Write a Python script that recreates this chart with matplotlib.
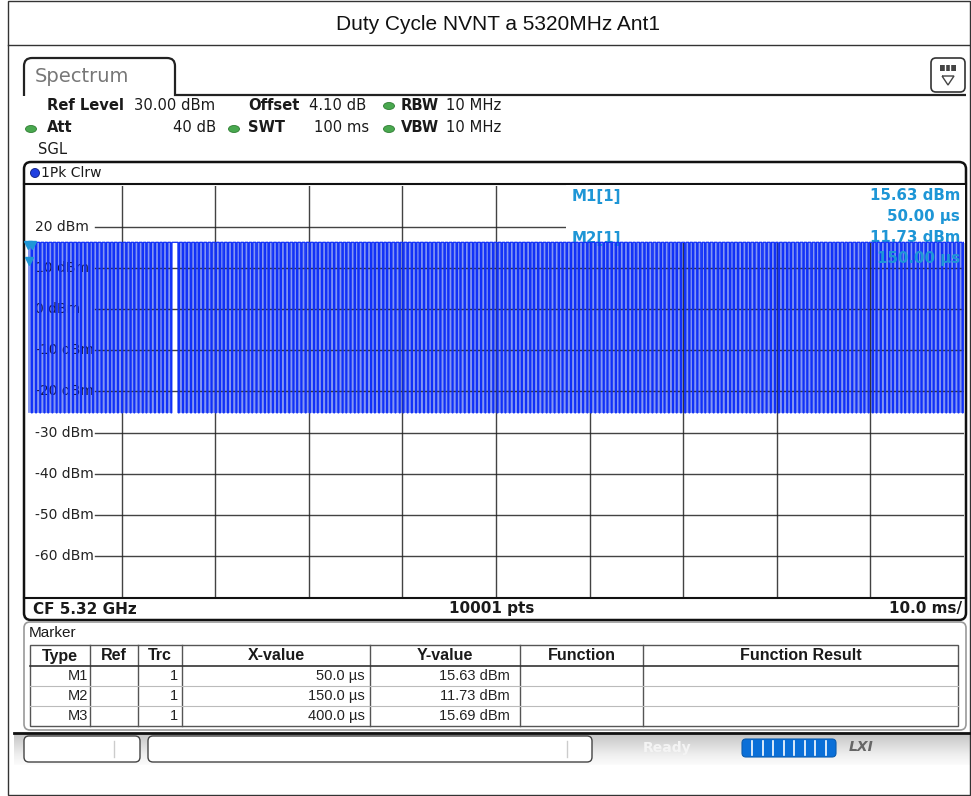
import numpy as np
import matplotlib
matplotlib.use("Agg")
import matplotlib.pyplot as plt
from matplotlib.patches import FancyBboxPatch, Rectangle, Ellipse, PathPatch
from matplotlib.path import Path

# ---------------- data ----------------
title = "Duty Cycle NVNT a 5320MHz Ant1"
sweep_ms = 100.0
n_points = 10001
ref_level_dbm = 30.0
y_bottom_dbm = -70.0
ytick_dbm = [20, 10, 0, -10, -20, -30, -40, -50, -60]
ytick_labels = ["20 dBm", "10 dBm", "0 dBm", "-10 dBm", "-20 dBm",
                "-30 dBm", "-40 dBm", "-50 dBm", "-60 dBm"]
xgrid_ms = [10, 20, 30, 40, 50, 60, 70, 80, 90]

burst_level_dbm = 16.3      # trace level while the transmitter is on
off_level_dbm = -25.2       # trace level in the off gaps
dip_width_ms = 0.12
# start of each off gap (ms)
dips_ms = [
    0.35, 0.8, 1.25, 1.7, 2.1, 2.55, 3.0, 3.4, 3.85, 4.3, 4.75, 5.2, 5.6, 6.05, 6.5, 6.9, 7.35, 7.8, 8.25, 8.7, 9.1, 9.55,
    10.0, 10.45, 10.9, 11.3, 11.75, 12.2, 12.6, 13.05, 13.5, 13.95, 14.35, 14.8, 15.25, 16.05, 16.5, 16.9, 17.35, 17.8, 18.2, 18.65, 19.1, 19.55,
    20.0, 20.45, 20.85, 21.3, 21.75, 22.2, 22.6, 23.05, 23.5, 23.9, 24.35, 24.8, 25.25, 25.65, 26.1, 26.55, 26.95, 27.4, 27.85, 28.3, 28.7, 29.15, 29.6,
    30.05, 30.5, 30.9, 31.35, 31.8, 32.2, 32.65, 33.1, 33.55, 33.95, 34.4, 34.85, 35.25, 35.7, 36.15, 36.6, 37.0, 37.45, 37.9, 38.3, 38.75, 39.2, 39.65,
    40.05, 40.5, 40.95, 41.4, 41.8, 42.25, 42.7, 43.1, 43.55, 44.0, 44.45, 44.85, 45.3, 45.75, 46.15, 46.6, 47.05, 47.5, 47.9, 48.35, 48.8, 49.2, 49.65,
    50.1, 50.55, 50.95, 51.4, 51.85, 52.3, 52.7, 53.15, 53.6, 54.0, 54.45, 54.9, 55.35, 55.75, 56.2, 56.65, 57.05, 57.5, 57.95, 58.4, 58.8, 59.25, 59.7,
    60.1, 60.55, 61.0, 61.45, 61.85, 62.3, 62.75, 63.15, 63.6, 64.05, 64.5, 64.9, 65.35, 65.8, 66.2, 66.65, 67.1, 67.55, 67.95, 68.4, 68.85, 69.25, 69.7,
    70.15, 70.6, 71.0, 71.45, 71.9, 72.3, 72.75, 73.2, 73.65, 74.05, 74.5, 74.95, 75.35, 75.8, 76.25, 76.7, 77.1, 77.55, 78.0, 78.4, 78.85, 79.3, 79.75,
    80.15, 80.6, 81.05, 81.45, 81.9, 82.35, 82.8, 83.2, 83.65, 84.1, 84.5, 84.95, 85.4, 85.85, 86.25, 86.7, 87.15, 87.55, 88.0, 88.45, 88.9, 89.3, 89.75,
    90.2, 90.6, 91.05, 91.5, 91.95, 92.35, 92.8, 93.25, 93.65, 94.1, 94.55, 95.0, 95.4, 95.85, 96.3, 96.7, 97.15, 97.6, 98.05, 98.45, 98.9, 99.35, 99.8,
]
quiet_gaps_ms = [(15.4, 15.95)]

marker_names = ["M1", "M2", "M3"]
marker_x_us = [50.0, 150.0, 400.0]
marker_y_dbm = [15.63, 11.73, 15.69]

table_header = ["Type", "Ref", "Trc", "X-value", "Y-value", "Function", "Function Result"]
table_rows = [
    ["M1", "", "1", "50.0 µs", "15.63 dBm", "", ""],
    ["M2", "", "1", "150.0 µs", "11.73 dBm", "", ""],
    ["M3", "", "1", "400.0 µs", "15.69 dBm", "", ""],
]

# ---------------- figure ----------------
W, H = 971, 796
fig = plt.figure(figsize=(W / 100, H / 100), dpi=100)
deco = fig.add_axes([0, 0, 1, 1])
deco.set_xlim(0, W)
deco.set_ylim(H, 0)
deco.axis("off")

FONT = ["DejaVu Sans"]
NARROW = ["Liberation Sans Narrow", "Liberation Sans"]
DARK = "#1a1a1a"
CYAN = "#1e96d6"
TRACE = "#1030f8"
LIGHT = "#8396f2"

# outer frame + title
deco.add_patch(Rectangle((8, 0.5), W - 9, H - 2, fill=False, lw=1.0, ec="#333333"))
deco.plot([8, W], [45, 45], color="#333333", lw=1.0)
deco.text(498, 24, title, ha="center", va="center", fontsize=15,
          family=["Liberation Sans", "DejaVu Sans"], color="#111111")

# Spectrum tab
verts = [(24, 96), (24, 66), (24, 58), (32, 58), (167, 58), (175, 58), (175, 66), (175, 95), (966, 95)]
codes = [Path.MOVETO, Path.LINETO, Path.CURVE3, Path.CURVE3, Path.LINETO, Path.CURVE3, Path.CURVE3,
         Path.LINETO, Path.LINETO]
deco.add_patch(PathPatch(Path(verts, codes), fill=False, lw=1.6, ec="#222222"))
deco.text(35, 76, "Spectrum", fontsize=14, family=FONT, color="#777777", va="center")
# icon top right
deco.add_patch(FancyBboxPatch((931, 58), 34, 34, boxstyle="round,pad=0,rounding_size=5",
                              fc="white", ec="#333333", lw=1.2))
deco.add_patch(Rectangle((940, 65), 16, 6, fc="#444444", ec="none"))
deco.plot([944.5, 944.5], [65, 71], color="white", lw=1)
deco.plot([949.5, 949.5], [65, 71], color="white", lw=1)
deco.add_patch(PathPatch(Path([(942, 76), (954, 76), (948, 85), (942, 76)]), fill=False, ec="#444444", lw=1))

# header parameters
def green(x, y):
    deco.add_patch(Ellipse((x, y), 11, 7, fc="#49a84f", ec="#2e7d32", lw=0.6))

hs = 10.6
deco.text(47, 105, "Ref Level", fontsize=hs, weight="bold", family=FONT, va="center", color=DARK)
deco.text(134, 105, "30.00 dBm", fontsize=hs, family=FONT, va="center", color=DARK)
deco.text(248, 105, "Offset", fontsize=hs, weight="bold", family=FONT, va="center", color=DARK)
deco.text(309, 105, "4.10 dB", fontsize=hs, family=FONT, va="center", color=DARK)
green(389, 106)
deco.text(401, 105, "RBW", fontsize=hs, weight="bold", family=FONT, va="center", color=DARK)
deco.text(446, 105, "10 MHz", fontsize=hs, family=FONT, va="center", color=DARK)
green(31, 129)
deco.text(47, 128, "Att", fontsize=hs, weight="bold", family=FONT, va="center", color=DARK)
deco.text(216, 128, "40 dB", fontsize=hs, family=FONT, va="center", ha="right", color=DARK)
green(234, 129)
deco.text(248, 128, "SWT", fontsize=hs, weight="bold", family=FONT, va="center", color=DARK)
deco.text(314, 128, "100 ms", fontsize=hs, family=FONT, va="center", color=DARK)
green(389, 129)
deco.text(401, 128, "VBW", fontsize=hs, weight="bold", family=FONT, va="center", color=DARK)
deco.text(446, 128, "10 MHz", fontsize=hs, family=FONT, va="center", color=DARK)
deco.text(38, 150, "SGL", fontsize=hs, family=FONT, va="center", color=DARK)

# plot panel frame
deco.add_patch(FancyBboxPatch((24, 162), 942, 458, boxstyle="round,pad=0,rounding_size=7",
                              fc="white", ec="#111111", lw=1.8))
deco.plot([24, 966], [184, 184], color="#111111", lw=1.5)
deco.plot([24, 966], [598, 598], color="#111111", lw=1.5)
deco.add_patch(Ellipse((35, 173), 9, 9, fc="#1f3fe0", ec="#0a1a80", lw=0.6))
deco.text(41, 173, "1Pk Clrw", fontsize=10, family=FONT, va="center", color=DARK)
bs = 11
deco.text(33, 609, "CF 5.32 GHz", fontsize=bs, weight="bold", family=FONT, va="center", color=DARK)
deco.text(492, 609, "10001 pts", fontsize=bs, weight="bold", family=FONT, va="center", ha="center", color=DARK)
deco.text(962, 609, "10.0 ms/", fontsize=bs, weight="bold", family=FONT, va="center", ha="right", color=DARK)

# ---------------- trace axes ----------------
X0, X1, Y0, Y1 = 28, 964, 186, 597
ax = fig.add_axes([X0 / W, 1 - Y1 / H, (X1 - X0) / W, (Y1 - Y0) / H])
ax.set_xlim(0, sweep_ms)
ax.set_ylim(y_bottom_dbm, ref_level_dbm)
ax.axis("off")

def px2data(x, y):
    return (x - X0) / (X1 - X0) * sweep_ms, ref_level_dbm - (y - Y0) / (Y1 - Y0) * (ref_level_dbm - y_bottom_dbm)

t = np.linspace(0, sweep_ms, n_points)
level = np.full(n_points, burst_level_dbm)
for d in dips_ms:
    level[(t >= d) & (t < d + dip_width_ms)] = off_level_dbm

# band fill (rendering of the dense trace)
band = np.ones(n_points, bool)
for a, b in quiet_gaps_ms:
    band &= ~((t >= a) & (t <= b))
ax.fill_between(t, off_level_dbm, burst_level_dbm, where=band, color=LIGHT, lw=0, zorder=3)

# y labels and grid
x_lab, _ = px2data(35, 0)
x_line, _ = px2data(95, 0)
for v, s in zip(ytick_dbm, ytick_labels):
    inside = off_level_dbm < v < burst_level_dbm
    ax.text(x_lab, v, s, fontsize=10, family=FONT, va="center",
            color="#1a1a40" if inside else "#222222", zorder=4 if inside else 2)
    ax.plot([x_line, sweep_ms], [v, v], color="#222222", lw=1.0, zorder=5, alpha=0.85)
for xv in xgrid_ms:
    ax.plot([xv, xv], [y_bottom_dbm, ref_level_dbm], color="#222222", lw=1.0, zorder=5, alpha=0.85)

# marker info box (white box that hides grid)
bx0, by0 = px2data(566, 185)
bx1, by1 = px2data(965, 243)
ax.add_patch(Rectangle((bx0, by1), bx1 - bx0, by0 - by1, fc="white", ec="none", zorder=6, clip_on=False))
mfs = 10.8
tx, ty = px2data(572, 196)
ax.text(tx, ty, "M1[1]", fontsize=mfs, weight="bold", family=FONT, color=CYAN, va="center", zorder=7)
tx, ty = px2data(960, 196)
ax.text(tx, ty, f"{marker_y_dbm[0]:.2f} dBm", fontsize=mfs, weight="bold", family=FONT, color=CYAN, va="center", ha="right", zorder=7)
tx, ty = px2data(960, 216)
ax.text(tx, ty, f"{marker_x_us[0]:.2f} µs", fontsize=mfs, weight="bold", family=FONT, color=CYAN, va="center", ha="right", zorder=7)
tx, ty = px2data(572, 238)
ax.text(tx, ty, "M2[1]", fontsize=mfs, weight="bold", family=FONT, color=CYAN, va="center", zorder=7)
tx, ty = px2data(960, 238)
ax.text(tx, ty, f"{marker_y_dbm[1]:.2f} dBm", fontsize=mfs, weight="bold", family=FONT, color=CYAN, va="center", ha="right", zorder=7)
tx, ty = px2data(960, 258)
ax.text(tx, ty, f"{marker_x_us[1]:.2f} µs", fontsize=mfs, weight="bold", family=FONT, color=CYAN, va="center", ha="right", zorder=9)

# trace on top
ax.plot(t, level, color=TRACE, lw=0.9, zorder=8, solid_joinstyle="miter")

# markers
ax.plot(np.array(marker_x_us) / 1000.0, marker_y_dbm, ls="none", marker="v", ms=6,
        color=CYAN, zorder=10, clip_on=False)

# ---------------- marker table ----------------
deco.add_patch(FancyBboxPatch((24, 622), 942, 108, boxstyle="round,pad=0,rounding_size=6",
                              fc="white", ec="#999999", lw=1.2))
deco.text(29, 633, "Marker", fontsize=11, family=NARROW, va="center", color=DARK)
cols = [30, 90, 138, 182, 370, 520, 643, 958]
rows_y = [645, 666, 686, 706, 726]
deco.add_patch(Rectangle((cols[0], rows_y[0]), cols[-1] - cols[0], rows_y[-1] - rows_y[0],
                         fill=False, ec="#555555", lw=1.0))
for cx in cols[1:-1]:
    deco.plot([cx, cx], [rows_y[0], rows_y[-1]], color="#555555", lw=1.0)
deco.plot([cols[0], cols[-1]], [rows_y[1], rows_y[1]], color="#333333", lw=1.2)
for ry in rows_y[2:-1]:
    deco.plot([cols[0], cols[-1]], [ry, ry], color="#bbbbbb", lw=0.8)
for i, h in enumerate(table_header):
    deco.text((cols[i] + cols[i + 1]) / 2, 656, h, fontsize=11.5, weight="bold", family=NARROW,
              ha="center", va="center", color=DARK)
pads = [2, 0, 4, 5, 10, 0, 0]
for r, row in enumerate(table_rows):
    yc = (rows_y[r + 1] + rows_y[r + 2]) / 2
    for i, v in enumerate(row):
        if v:
            deco.text(cols[i + 1] - pads[i], yc, v, fontsize=10.5, family=NARROW, ha="right", va="center", color="#222222")

# ---------------- status bar ----------------
grad = np.linspace(0, 1, 30).reshape(-1, 1)
deco.imshow(grad, extent=(14, W, 765, 733), cmap="Greys_r", vmin=-2.0, vmax=1.1, aspect="auto", zorder=0)
deco.plot([14, W], [733, 733], color="#111111", lw=2)
deco.add_patch(FancyBboxPatch((24, 736), 116, 26, boxstyle="round,pad=0,rounding_size=5",
                              fc="white", ec="#444444", lw=1.0, zorder=2))
deco.plot([114, 114], [741, 757], color="#cccccc", lw=1, zorder=3)
deco.add_patch(FancyBboxPatch((148, 736), 444, 26, boxstyle="round,pad=0,rounding_size=5",
                              fc="white", ec="#444444", lw=1.0, zorder=2))
deco.plot([567, 567], [741, 757], color="#cccccc", lw=1, zorder=3)
deco.text(667, 748, "Ready", fontsize=10, weight="bold", family=FONT, color="#f4f4f4", ha="center", va="center", zorder=3)
deco.add_patch(FancyBboxPatch((742, 739), 94, 18, boxstyle="round,pad=0,rounding_size=4",
                              fc="#0a6fd8", ec="#0a5cb0", lw=0.8, zorder=3))
for k in range(1, 9):
    xk = 742 + k * 94 / 9
    deco.plot([xk, xk], [741, 755], color="white", lw=1.2, zorder=4)
deco.text(861, 747, "LXI", fontsize=10, weight="bold", style="italic", family=FONT, color="#666666",
          ha="center", va="center", zorder=3)

fig.savefig("out.png", dpi=100)
